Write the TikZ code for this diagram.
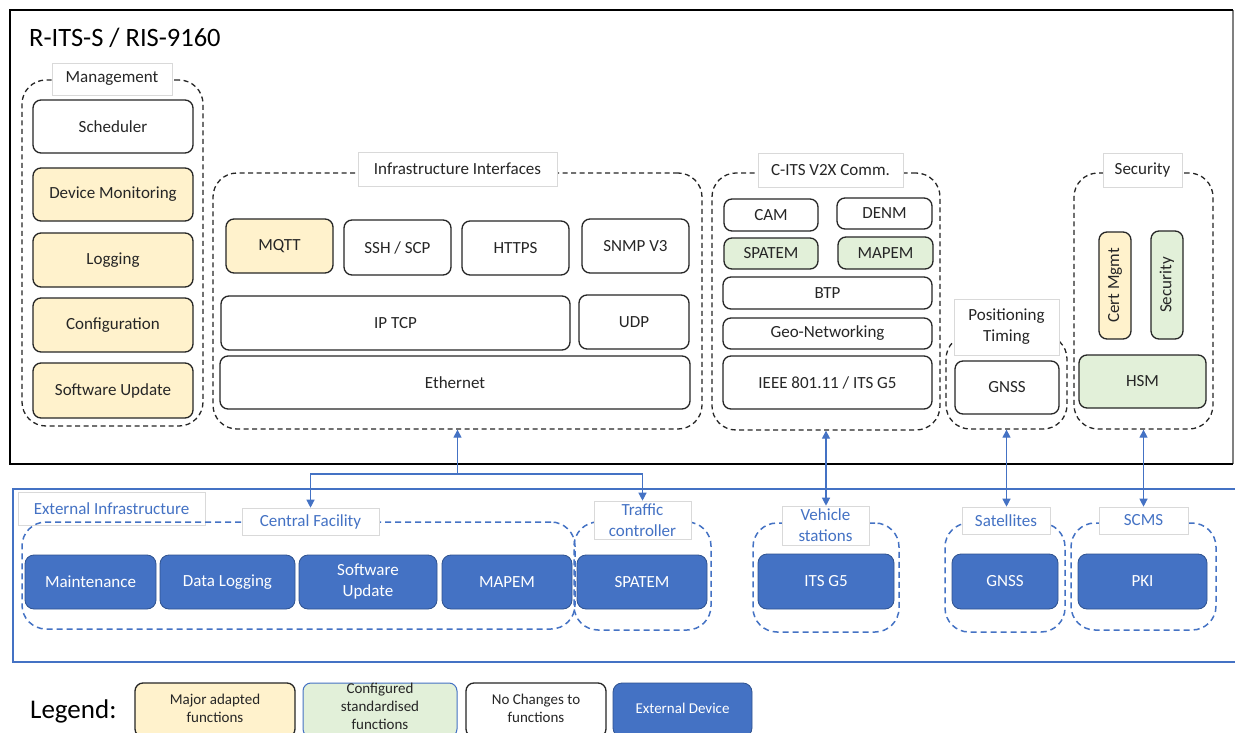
\documentclass[tikz,border=0pt]{standalone}
\usepackage{fontspec}
\setmainfont{Carlito}
\usetikzlibrary{arrows.meta}

\definecolor{adapted}{HTML}{FFF2CC}
\definecolor{standard}{HTML}{E2F0D9}
\definecolor{extblue}{HTML}{4472C4}
\definecolor{extedge}{HTML}{2F528F}
\definecolor{ink}{HTML}{262626}
\definecolor{labeledge}{HTML}{D9D9D9}

% \placebox[extra options]{name}{style}{x1}{y1}{x2}{y2} {text};
\newcommand\placebox[7][]{\node[#3,minimum width={(#6-#4)*1pt},minimum height={(#7-#5)*1pt},#1] (#2) at ({(#4+#6)/2},{(#5+#7)/2})}

\tikzset{
  txt/.style={font=\fontsize{17}{21}\selectfont},
  fn/.style={draw=ink,line width=1.3pt,rounded corners=8pt,inner sep=0pt,text=ink,align=center,txt},
  adaptedfn/.style={fn,fill=adapted},
  standardfn/.style={fn,fill=standard},
  plainfn/.style={fn,fill=white},
  extfn/.style={draw=extedge,line width=0.8pt,fill=extblue,rounded corners=9pt,inner sep=0pt,text=white,align=center,txt},
  grp/.style={draw=ink,line width=1.3pt,dash pattern=on 5pt off 3.5pt,rounded corners=24pt,inner sep=0pt},
  extgrp/.style={draw=extblue,line width=1.5pt,dash pattern=on 6pt off 4pt,rounded corners=24pt,inner sep=0pt},
  grplabel/.style={draw=labeledge,line width=0.6pt,fill=white,inner sep=0pt,text=ink,align=center,txt},
  extlabel/.style={grplabel,text=extblue},
  link/.style={draw=extblue,line width=1.2pt},
  tip/.style={-{Triangle[length=8pt,width=8pt]}},
  twotip/.style={{Triangle[length=8pt,width=8pt]}-{Triangle[length=8pt,width=8pt]}},
  legendtxt/.style={font=\fontsize{15}{18}\selectfont},
}

\begin{document}
\begin{tikzpicture}[x=1pt,y=-1pt]
\useasboundingbox (0,0) rectangle (1235,733);
\clip (0,0) rectangle (1235,733);
\fill[white] (0,0) rectangle (1235,733);

% ---------------- R-ITS-S unit ----------------
\draw[gray,line width=1.5pt] (1233,10) -- (1233,464);
\draw[black,line width=2.5pt] (1233,10) -- (10,10) -- (10,464) -- (1233,464);
\node[anchor=west,text=black,font=\fontsize{26.5}{31}\selectfont,inner sep=0pt] (title) at (29,38) {R-ITS-S / RIS-9160};

% Management
\placebox{mgmt}{grp}{22}{80}{203}{426} {};
\placebox{mgmtlbl}{grplabel}{52}{63}{172}{95} {Management};
\placebox{sched}{plainfn}{33}{100}{193}{153} {Scheduler};
\placebox{devmon}{adaptedfn}{33}{168}{193}{221} {Device Monitoring};
\placebox{logging}{adaptedfn}{33}{233}{193}{287} {Logging};
\placebox{config}{adaptedfn}{33}{298}{193}{352} {Configuration};
\placebox{swupd}{adaptedfn}{33}{363}{193}{418} {Software Update};

% Infrastructure interfaces
\placebox{ii}{grp}{213}{173}{702}{429} {};
\placebox{iilbl}{grplabel}{358}{152}{557}{186} {Infrastructure Interfaces};
\placebox{mqtt}{adaptedfn}{226}{219}{333}{273} {MQTT};
\placebox{ssh}{plainfn}{344}{220}{451}{275} {SSH / SCP};
\placebox{https}{plainfn}{462}{221}{569}{275} {HTTPS};
\placebox{snmp}{plainfn}{582}{219}{689}{273} {SNMP V3};
\placebox{iptcp}{plainfn}{221}{296}{570}{350} {IP TCP};
\placebox{udp}{plainfn}{579}{295}{689}{349} {UDP};
\placebox{eth}{plainfn}{220}{356}{690}{409} {Ethernet};

% C-ITS V2X communication
\placebox{cits}{grp}{712}{173}{940}{430} {};
\placebox{citslbl}{grplabel}{758}{153}{903}{187} {C-ITS V2X Comm.};
\placebox{cam}{plainfn}{724}{199}{818}{231} {CAM};
\placebox{denm}{plainfn}{837}{198}{932}{229} {DENM};
\placebox{spatem}{standardfn}{724}{238}{818}{269} {SPATEM};
\placebox{mapem}{standardfn}{838}{237}{933}{269} {MAPEM};
\placebox{btp}{plainfn}{723}{277}{932}{309} {BTP};
\placebox{geonet}{plainfn}{723}{318}{932}{349} {Geo-Networking};
\placebox{g5}{plainfn}{723}{356}{932}{409} {IEEE 801.11 / ITS G5};

% Positioning and timing
\placebox{pos}{grp}{946}{335}{1067}{429} {};
\placebox{poslbl}{grplabel}{954}{299}{1059}{355} {Positioning\\Timing};
\placebox{gnss}{plainfn}{955}{361}{1059}{414} {GNSS};

% Security
\placebox{sec}{grp}{1074}{173}{1213}{429} {};
\placebox{seclbl}{grplabel}{1103}{153}{1182}{187} {Security};
\node[adaptedfn,rotate=90,minimum width=107pt,minimum height=32pt] (cert) at (1115,285.5) {Cert Mgmt};
\node[standardfn,rotate=90,minimum width=108pt,minimum height=32pt] (secfn) at (1167,285) {Security};
\placebox{hsm}{standardfn}{1079}{355}{1206}{408} {HSM};

% ---------------- External infrastructure ----------------
\draw[extblue,line width=2pt] (13,489) rectangle (1245,662);
\placebox{extlbl}{extlabel}{18}{492}{205}{525} {External Infrastructure};

% Central facility
\placebox{cf}{extgrp}{22}{522}{575}{629} {};
\placebox{cflbl}{extlabel}{242}{508}{379}{535} {Central Facility};
\placebox{maint}{extfn}{25}{555}{156}{609} {Maintenance};
\placebox{dlog}{extfn}{160}{555}{295}{609} {Data Logging};
\placebox{sw}{extfn}{299}{555}{437}{609} {Software\\Update};
\placebox{extmapem}{extfn}{442}{555}{572}{609} {MAPEM};

% Traffic controller
\placebox{tc}{extgrp}{574}{522}{711}{630} {};
\placebox{tclbl}{extlabel}{594}{501}{691}{539} {Traffic\\controller};
\placebox{extspatem}{extfn}{577}{555}{707}{609} {SPATEM};

% Vehicle stations
\placebox{veh}{extgrp}{753}{523}{899}{632} {};
\placebox{vehlbl}{extlabel}{782}{506}{869}{545} {Vehicle\\stations};
\placebox{itsg5}{extfn}{758}{554}{894}{609} {ITS G5};

% Satellites
\placebox{sat}{extgrp}{945}{523}{1065}{632} {};
\placebox{satlbl}{extlabel}{962}{507}{1050}{534} {Satellites};
\placebox{extgnss}{extfn}{952}{554}{1058}{609} {GNSS};

% SCMS
\placebox{scms}{extgrp}{1071}{523}{1216}{630} {};
\placebox{scmslbl}{extlabel}{1099}{507}{1188}{534} {SCMS};
\placebox{pki}{extfn}{1078}{554}{1207}{609} {PKI};

% ---------------- Links ----------------
\coordinate (split) at (ii.south |- 0,474);
\draw[link,tip] (split) -- (ii.south);
\draw[link,tip] (split) -| (cflbl.north);
\draw[link,tip] (split) -| (tclbl.north);
\draw[link,twotip] (cits.south) -- (cits.south |- vehlbl.north);
\draw[link,twotip] (pos.south) -- (pos.south |- satlbl.north);
\draw[link,twotip] (sec.south) -- (sec.south |- scmslbl.north);

% ---------------- Legend ----------------
\node[anchor=west,text=black,font=\fontsize{27}{32}\selectfont,inner sep=0pt] (legend) at (30,711) {Legend:};
\placebox{lgmajor}{adaptedfn}{135}{683}{295}{737} {};
\node[legendtxt,text=ink,align=center] (lgmajortxt) at (215,708) {Major adapted\\functions};
\placebox[draw=extblue,line width=1pt]{lgstd}{standardfn}{303}{683}{457}{737} {};
\node[legendtxt,text=ink,align=center] (lgstdtxt) at (380,706) {Configured\\standardised\\functions};
\placebox{lgnone}{plainfn}{466}{683}{606}{737} {};
\node[legendtxt,text=ink,align=center] (lgnonetxt) at (536,708) {No Changes to\\functions};
\placebox{lgext}{extfn}{613}{683}{752}{737} {};
\node[legendtxt,text=white] (lgexttxt) at (682.5,708) {External Device};
\end{tikzpicture}
\end{document}
